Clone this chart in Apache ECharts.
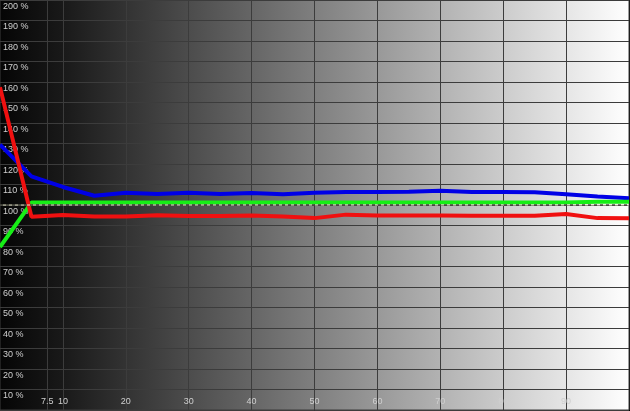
<!DOCTYPE html>
<html>
<head>
<meta charset="utf-8">
<script src="https://cdn.jsdelivr.net/npm/echarts@6/dist/echarts.min.js"></script>
<style>
html,body{margin:0;padding:0;background:#000;}
#c{width:630px;height:411px;}
</style>
</head>
<body>
<div id="c"></div>
<script>
// x positions (% stimulus)
var xs = [0,5,10,15,20,25,30,35,40,45,50,55,60,65,70,75,80,85,90,95,100];
var redVals   = [157.5,94.3,95.1,94.4,94.4,95.0,94.6,94.6,94.9,94.4,93.6,95.3,94.9,94.9,94.9,94.8,94.8,94.8,95.6,93.6,93.5];
var greenVals = [79.5,101.2,101.2,101.2,101.2,101.2,101.2,101.2,101.2,101.2,101.2,101.2,101.2,101.2,101.2,101.2,101.2,101.2,101.2,101.6,101.6];
var blueVals  = [129.4,114.0,108.8,104.5,106.0,105.4,106.0,105.4,105.9,105.3,106.0,106.4,106.4,106.5,106.9,106.4,106.4,106.2,105.2,104.1,103.3];
var refLevel = 100;
var xTickValues = [7.5,10,20,30,40,50,60,70,80,90];
var yMin = 0, yMax = 200, yStep = 10;

function pairs(vals){ return xs.map(function(x,i){ return [x, vals[i]]; }); }

var chart = echarts.init(document.getElementById('c'), null, {renderer:'canvas'});
var labelFont = {color:'#cfcfcf', fontSize:9, fontFamily:'Liberation Sans, Arial, sans-serif'};
var option = {
  animation:false,
  backgroundColor:'#000',
  grid:{left:0, right:1, top:0, bottom:1, show:true, borderColor:'#3c3c3c', borderWidth:1,
    backgroundColor: new echarts.graphic.LinearGradient(0,0,1,0,[
      {offset:0, color:'#050505'},
      {offset:0.1, color:'#191919'},
      {offset:0.5, color:'#7f7f7f'},
      {offset:1, color:'#ffffff'}
    ])},
  xAxis:{type:'value', min:0, max:100,
    axisLine:{show:false},
    axisTick:{show:false, customValues:xTickValues},
    axisLabel:Object.assign({inside:true, customValues:xTickValues, margin:8, verticalAlign:'middle',
      formatter:function(v){return String(v);}}, labelFont),
    splitLine:{show:true, lineStyle:{color:'#3c3c3c', width:1}}
  },
  yAxis:{type:'value', min:yMin, max:yMax, interval:yStep,
    axisLine:{show:false}, axisTick:{show:false},
    axisLabel:Object.assign({inside:true, margin:3, align:'left', verticalAlign:'top', padding:[2,0,0,0],
      showMinLabel:true, showMaxLabel:true,
      formatter:function(v){return v===0?'':v+' %';}}, labelFont),
    splitLine:{show:true, lineStyle:{color:'#3c3c3c', width:1}}
  },
  series:[
    {type:'line', data:pairs(blueVals), showSymbol:false, lineStyle:{color:'#0000e6', width:4}, itemStyle:{color:'#0000e6'}, z:2},
    {type:'line', data:pairs(greenVals), showSymbol:false, lineStyle:{color:'#16ee16', width:4}, itemStyle:{color:'#16ee16'}, z:3},
    {type:'line', data:pairs(redVals), showSymbol:false, lineStyle:{color:'#f01010', width:4}, itemStyle:{color:'#f01010'}, z:4},
    {type:'line', data:[[0,refLevel],[100,refLevel]], showSymbol:false, lineStyle:{color:'#e8e8c8', width:1}, z:5},
    {type:'line', data:[[0,refLevel],[100,refLevel]], showSymbol:false, lineStyle:{color:'#000000', width:1, type:[3,3]}, z:6}
  ]
};
chart.setOption(option);
</script>
</body>
</html>
